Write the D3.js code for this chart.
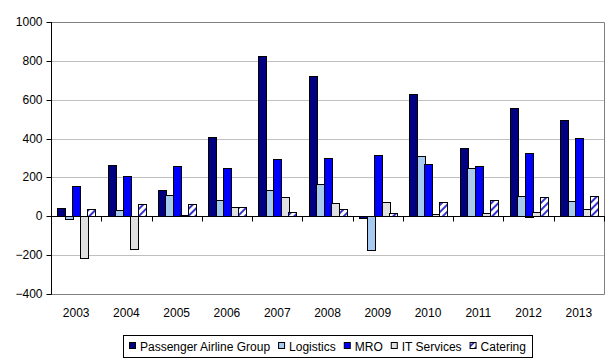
<!DOCTYPE html>
<html>
<head>
<meta charset="utf-8">
<script src="https://cdn.jsdelivr.net/npm/d3@7"></script>
<style>
  body { margin: 0; background: #fff; }
  svg { display: block; font-family: Arial, "Liberation Sans", sans-serif; }
</style>
</head>
<body>
<div id="chart"></div>
<script>
const years = ['2003', '2004', '2005', '2006', '2007', '2008', '2009', '2010', '2011', '2012', '2013'];
const seriesNames = ['Passenger Airline Group', 'Logistics', 'MRO', 'IT Services', 'Catering'];
const passenger = [41, 262, 133, 408, 825, 722, -10, 629, 350, 556, 494];
const logistics = [-15, 31, 108, 82, 135, 166, -177, 310, 247, 103, 77];
const mro = [154, 205, 258, 246, 295, 300, 315, 269, 258, 327, 402];
const itServices = [-215, -169, 5, 46, 99, 68, 73, 11, 15, 20, 37];
const catering = [36, 62, 62, 46, 22, 37, 16, 73, 84, 97, 103];
const yTicks = [-400, -200, 0, 200, 400, 600, 800, 1000];

const seriesValues = [passenger, logistics, mro, itServices, catering];
const colors = ['#000080', '#a6caf0', '#0000ff', '#e0e0e0', 'url(#hatch)'];

const width = 616;
const height = 363;
const plot = { left: 51, right: 604, top: 22, bottom: 294 };

const svg = d3.select('#chart')
  .append('svg')
  .attr('width', width)
  .attr('height', height);

// hatch pattern for Catering
const pat = svg.append('defs').append('pattern')
  .attr('id', 'hatch')
  .attr('patternUnits', 'userSpaceOnUse')
  .attr('width', 5)
  .attr('height', 5)
  .attr('patternTransform', 'rotate(45)');
pat.append('rect').attr('width', 5).attr('height', 5).attr('fill', '#fff');
pat.append('rect').attr('x', 0).attr('width', 2).attr('height', 5).attr('fill', '#3333cc');

const x = d3.scaleBand().domain(years).range([plot.left, plot.right]).padding(0);
const xInner = d3.scaleBand().domain(d3.range(seriesNames.length))
  .range([0, x.bandwidth()]).paddingInner(0).paddingOuter(0.85);
const y = d3.scaleLinear().domain([-400, 1000]).range([plot.bottom, plot.top]);

// gridlines
svg.append('g')
  .selectAll('line')
  .data(yTicks.filter(d => d !== 0 && d !== -400 && d !== 1000))
  .join('line')
  .attr('x1', plot.left).attr('x2', plot.right)
  .attr('y1', d => Math.round(y(d)) + 0.5).attr('y2', d => Math.round(y(d)) + 0.5)
  .attr('stroke', '#c0c0c0');

// plot border (top, right, bottom)
svg.append('path')
  .attr('d', `M${plot.left},${plot.top + 0.5}H${plot.right + 0.5}V${plot.bottom + 0.5}H${plot.left}`)
  .attr('fill', 'none')
  .attr('stroke', '#808080');

// bars
const data = [];
years.forEach((yr, i) => {
  seriesValues.forEach((vals, s) => data.push({ year: yr, s, v: vals[i] }));
});

svg.append('g')
  .selectAll('rect')
  .data(data)
  .join('rect')
  .attr('x', d => Math.round(x(d.year) + xInner(d.s)) + 0.5)
  .attr('width', Math.round(xInner.bandwidth()))
  .attr('y', d => Math.round(y(Math.max(0, d.v))) + 0.5)
  .attr('height', d => Math.max(0, Math.round(Math.abs(y(d.v) - y(0)))))
  .attr('fill', d => colors[d.s])
  .attr('stroke', '#000')
  .attr('stroke-width', 1);

// y axis
const yAxis = svg.append('g')
  .attr('transform', `translate(${plot.left + 0.5},0)`)
  .call(d3.axisLeft(y).tickValues(yTicks).tickSize(5).tickPadding(4).tickFormat(d3.format('d')));
yAxis.select('.domain').attr('stroke', '#000').attr('d', `M0,${plot.top}V${plot.bottom + 0.5}`);
yAxis.selectAll('.tick line').attr('stroke', '#000');
yAxis.selectAll('.tick').attr('transform', d => `translate(0,${Math.round(y(d)) + 0.5})`);
yAxis.selectAll('text').attr('fill', '#000').style('font-size', '12px').style('font-family', 'Arial, "Liberation Sans", sans-serif');

// zero line with category ticks
const zeroY = Math.round(y(0)) + 0.5;
svg.append('line')
  .attr('x1', plot.left).attr('x2', plot.right + 1)
  .attr('y1', zeroY).attr('y2', zeroY)
  .attr('stroke', '#000');
svg.append('g')
  .selectAll('line')
  .data(years.slice(1).concat(['end']))
  .join('line')
  .attr('x1', d => d === 'end' ? plot.right + 0.5 : Math.round(x(d)) + 0.5)
  .attr('x2', d => d === 'end' ? plot.right + 0.5 : Math.round(x(d)) + 0.5)
  .attr('y1', zeroY).attr('y2', zeroY + 5)
  .attr('stroke', '#000');

// x labels
svg.append('g')
  .selectAll('text')
  .data(years)
  .join('text')
  .attr('x', d => x(d) + x.bandwidth() / 2)
  .attr('y', 317)
  .attr('text-anchor', 'middle')
  .style('font-size', '12px')
  .text(d => d);

// legend
const legend = svg.append('g');
const boxX = 123, boxW = 409;
legend.append('rect')
  .attr('x', boxX + 0.5).attr('y', 335.5)
  .attr('width', boxW).attr('height', 22)
  .attr('fill', '#fff').attr('stroke', '#000');

const items = legend.append('g');
let lx = 0;
seriesNames.forEach((name, s) => {
  const g = items.append('g');
  g.append('rect')
    .attr('x', lx + 0.5).attr('y', 342.5)
    .attr('width', 6).attr('height', 6)
    .attr('fill', colors[s]).attr('stroke', '#000');
  const t = g.append('text')
    .attr('x', lx + 11).attr('y', 350.5)
    .style('font-size', '12px')
    .text(name);
  lx += 11 + t.node().getComputedTextLength() + (s < seriesNames.length - 1 ? 8 : 0);
});
// center the items inside the box
const offset = Math.round(boxX + (boxW - lx) / 2);
items.attr('transform', `translate(${offset},0)`);
</script>
</body>
</html>
